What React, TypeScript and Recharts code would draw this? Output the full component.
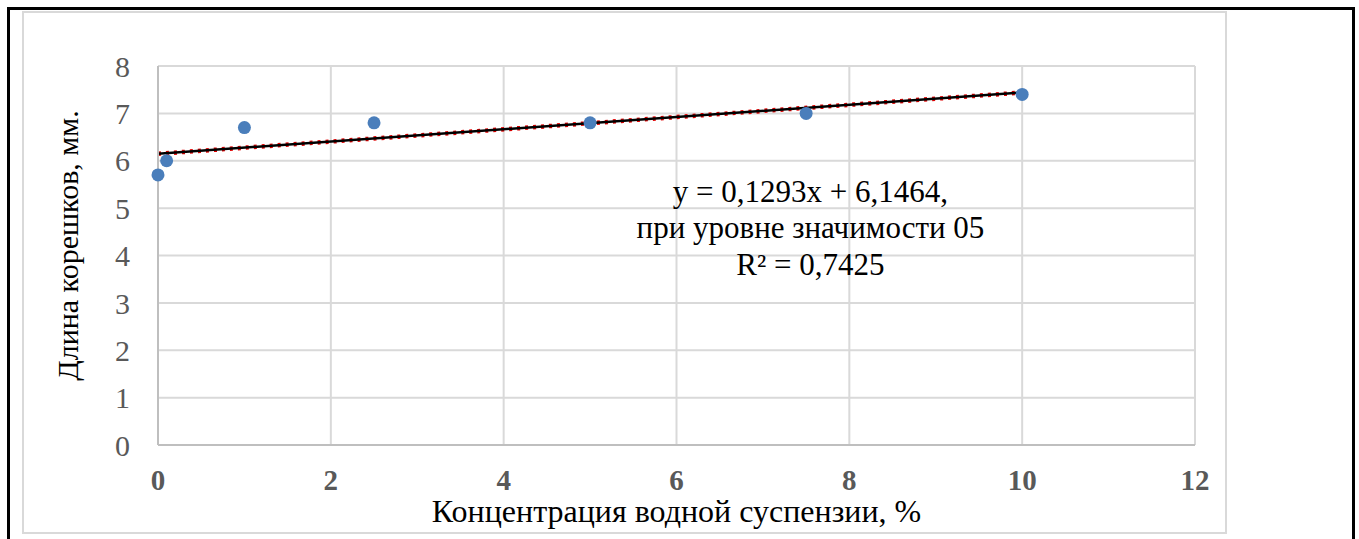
import { ScatterChart, Scatter, XAxis, YAxis, CartesianGrid, ReferenceLine, ReferenceDot, Label } from 'recharts';

// concentration of the aqueous suspension, % and mean root length, mm
const concentration = [0, 0.1, 1, 2.5, 5, 7.5, 10];
const rootLength = [5.7, 6.0, 6.7, 6.8, 6.8, 7.0, 7.4];

const xTicks = [0, 2, 4, 6, 8, 10, 12];
const yTicks = [0, 1, 2, 3, 4, 5, 6, 7, 8];

// linear trend y = a*x + b, drawn over the measured range
const trendSlope = 0.1293;
const trendIntercept = 6.1464;
const trendRange = [0, 10];

const equationLines = ['y = 0,1293x + 6,1464,', 'при уровне значимости 05', 'R² = 0,7425'];
const equationAnchor = { x: 7.55, y: 4.6 };

const xTitle = 'Концентрация водной суспензии, %';
const yTitle = 'Длина корешков, мм.';

const FONT = "'Liberation Serif', 'Times New Roman', 'DejaVu Serif', serif";
const GRID = '#d9d9d9';
const AXIS = '#bfbfbf';
const TICK_TEXT = '#595959';
const DOT = '#4a7ebb';

const points = concentration.map((x, i) => ({ x, y: rootLength[i] }));
const trendSegment = trendRange.map((x) => ({ x, y: trendIntercept + trendSlope * x }));

const Marker = (props: any) => <circle cx={props.cx} cy={props.cy} r={6.5} fill={DOT} />;

export default function App() {
    return (
        <div style={{ position: 'absolute', left: 0, top: 0, width: 1359, height: 539, overflow: 'hidden', background: '#fff', fontFamily: FONT }}>
            <div style={{ position: 'absolute', left: 7, top: 7, width: 1348, height: 540, border: '3px solid #000', borderBottom: 'none', boxSizing: 'border-box' }} />
            <div style={{ position: 'absolute', left: 22, top: 11, width: 1205, height: 523, border: `2px solid ${GRID}`, boxSizing: 'border-box' }} />
            <div style={{ position: 'absolute', left: 0, top: 0 }}>
                <ScatterChart width={1359} height={539} margin={{ top: 66, right: 164, bottom: 0, left: 0 }} style={{ fontFamily: FONT }}>
                    <CartesianGrid stroke={GRID} strokeWidth={2} />
                    <XAxis
                        type="number"
                        dataKey="x"
                        domain={[0, 12]}
                        ticks={xTicks}
                        height={94}
                        tickSize={0}
                        tickMargin={24}
                        axisLine={{ stroke: AXIS, strokeWidth: 2 }}
                        tickLine={false}
                        tick={{ fill: TICK_TEXT, fontSize: 29, fontWeight: 'bold', style: { fontFamily: FONT } }}
                    >
                        <Label
                            content={({ viewBox }: any) => (
                                <text
                                    x={viewBox.x + viewBox.width / 2}
                                    y={viewBox.y + viewBox.height - 17}
                                    textAnchor="middle"
                                    fill="#000"
                                    style={{ fontFamily: FONT, fontSize: 32 }}
                                >
                                    {xTitle}
                                </text>
                            )}
                        />
                    </XAxis>
                    <YAxis
                        type="number"
                        dataKey="y"
                        domain={[0, 8]}
                        ticks={yTicks}
                        width={158}
                        tickSize={0}
                        tickMargin={28}
                        axisLine={{ stroke: AXIS, strokeWidth: 2 }}
                        tickLine={false}
                        tick={{ fill: TICK_TEXT, fontSize: 30, style: { fontFamily: FONT } }}
                    >
                        <Label
                            content={({ viewBox }: any) => {
                                const cx = 78;
                                const cy = viewBox.y + viewBox.height / 2 - 10;
                                return (
                                    <text
                                        x={cx}
                                        y={cy}
                                        transform={`rotate(-90, ${cx}, ${cy})`}
                                        textAnchor="middle"
                                        fill="#000"
                                        style={{ fontFamily: FONT, fontSize: 30 }}
                                    >
                                        {yTitle}
                                    </text>
                                );
                            }}
                        />
                    </YAxis>
                    <ReferenceLine
                        segment={trendSegment}
                        stroke="#e00000"
                        strokeWidth={4.5}
                        strokeDasharray="3 5"
                    />
                    <ReferenceLine segment={trendSegment} stroke="#000" strokeWidth={2.5} />
                    <Scatter data={points} shape={Marker} isAnimationActive={false} />
                    <ReferenceDot x={equationAnchor.x} y={equationAnchor.y} r={0} fill="none" stroke="none">
                        <Label
                            content={({ viewBox }: any) => {
                                const cx = viewBox.x + viewBox.width / 2;
                                const cy = viewBox.y + viewBox.height / 2;
                                return (
                                    <text textAnchor="middle" fill="#000" style={{ fontFamily: FONT, fontSize: 31 }}>
                                        {equationLines.map((line, i) => (
                                            <tspan key={i} x={cx} y={cy + (i - 1) * 36.5 + 11}>
                                                {line}
                                            </tspan>
                                        ))}
                                    </text>
                                );
                            }}
                        />
                    </ReferenceDot>
                </ScatterChart>
            </div>
        </div>
    );
}
